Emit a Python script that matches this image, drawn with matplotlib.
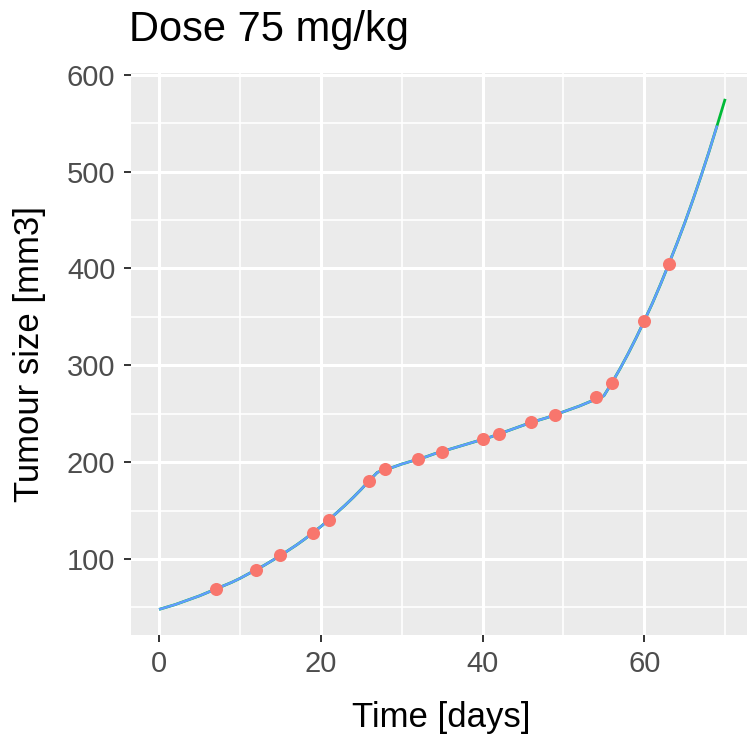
import matplotlib
matplotlib.use('Agg')
import matplotlib.pyplot as plt
import numpy as np

plt.rcParams['font.family'] = ['Liberation Sans', 'DejaVu Sans']

# observed tumour sizes (red points)
obs_days = [7, 12, 15, 19, 21, 26, 28, 32, 35, 40, 42, 46, 49, 54, 56, 60, 63]
obs_size = [69, 89, 104, 127, 140, 181, 193, 203, 211, 224, 229, 241, 249, 267, 282, 346, 405]

# model curve
curve_days = list(range(0, 71))
curve_size = [48, 50.5, 53, 56, 59, 62, 65.5, 69, 72.5, 76,
              80, 84.5, 89, 93.5, 98.5, 103.5, 109, 114.5, 120.5, 127,
              133.5, 140.5, 148, 155.5, 163.5, 172, 181, 189.5, 192.5, 195,
              198, 200.5, 203, 205.5, 208.5, 211, 213.5, 216, 218.5, 221,
              223.5, 226, 229, 232, 235, 238, 241, 243.5, 246, 249,
              252, 255, 258, 261.5, 265, 268.5, 282, 296.5, 312, 328.5,
              346, 364, 383.5, 404, 425, 447, 470.5, 495, 520.5, 547.5,
              575]
blue_end = 69  # blue curve stops one day before the green one

W, H = 747, 736
fig = plt.figure(figsize=(W / 100, H / 100), dpi=100)
ax = fig.add_axes([130.7 / W, 101 / H, 622.8 / W, 561.7 / H])
ax.set_facecolor('#EBEBEB')
for s in ax.spines.values():
    s.set_visible(False)

ax.plot(curve_days, curve_size, color='#00BA38', lw=2.0, solid_capstyle='butt', zorder=3)
ax.plot(curve_days[:blue_end + 1], curve_size[:blue_end + 1], color='#619CFF', lw=1.8,
        solid_capstyle='butt', zorder=4)
ax.plot(obs_days, obs_size, 'o', color='#F8766D', ms=9.4, mec='none', zorder=5)

ax.set_xlim(-3.5, 73.5)
ax.set_ylim(21.6, 601.4)
ax.set_xticks([0, 20, 40, 60])
ax.set_yticks([100, 200, 300, 400, 500, 600])
ax.set_xticks([10, 30, 50, 70], minor=True)
ax.set_yticks([50, 150, 250, 350, 450, 550], minor=True)
ax.grid(which='major', color='white', lw=2.2, zorder=1)
ax.grid(which='minor', color='white', lw=1.2, zorder=1)
ax.set_axisbelow(True)
ax.tick_params(which='major', length=5, width=1.4, color='#333333', labelsize=21,
               labelcolor='#4D4D4D', pad=6)
ax.tick_params(which='minor', length=0)

ax.set_xlabel('Time [days]', fontsize=25)
ax.set_ylabel('Tumour size [mm3]', fontsize=25)
ax.xaxis.label.set_va('baseline')
ax.xaxis.set_label_coords((441 - 130.7) / 622.8, (9 - 101) / 561.7)
ax.yaxis.set_label_coords((46 - 130.7) / 622.8, 0.5)

fig.text(129 / W, 1 - 41 / H, 'Dose 75 mg/kg', fontsize=30, ha='left', va='baseline')

fig.savefig('out.png', dpi=100)
